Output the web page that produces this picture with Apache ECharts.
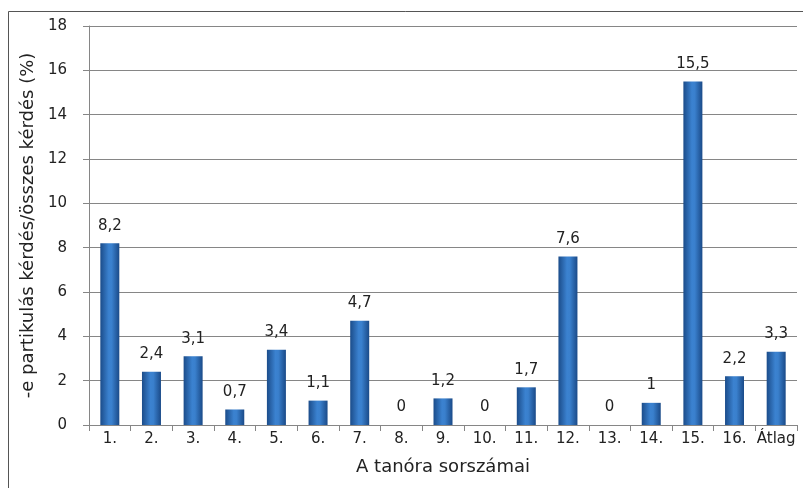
<!DOCTYPE html>
<html>
<head>
<meta charset="utf-8">
<script src="https://cdn.jsdelivr.net/npm/echarts@6/dist/echarts.min.js"></script>
<style>
  html, body { margin: 0; padding: 0; background: #fff; }
  #chart { width: 803px; height: 488px; }
</style>
</head>
<body>
<div id="chart"></div>
<script>
// Lesson numbers and the share of "-e" particle questions (%)
const categories = ['1.', '2.', '3.', '4.', '5.', '6.', '7.', '8.', '9.', '10.', '11.', '12.', '13.', '14.', '15.', '16.', 'Átlag'];
const values = [8.2, 2.4, 3.1, 0.7, 3.4, 1.1, 4.7, 0, 1.2, 0, 1.7, 7.6, 0, 1, 15.5, 2.2, 3.3];
const yTicks = [0, 2, 4, 6, 8, 10, 12, 14, 16, 18];

const FONT = 'DejaVu Sans';
const TEXT = '#222';
const chart = echarts.init(document.getElementById('chart'));

// cylinder-like shading across each bar
const barColor = new echarts.graphic.LinearGradient(0, 0, 1, 0, [
  { offset: 0, color: '#1b4c8a' },
  { offset: 0.45, color: '#3b82d0' },
  { offset: 0.6, color: '#3a80cd' },
  { offset: 1, color: '#1a4a88' }
]);

chart.setOption({
  animation: false,
  backgroundColor: '#fff',
  textStyle: { fontFamily: FONT },
  graphic: [
    {
      type: 'polyline',
      shape: { points: [[8.5, 488], [8.5, 11.5], [803, 11.5]] },
      style: { stroke: '#555', lineWidth: 1, fill: null }
    }
  ],
  grid: { left: 89, right: 6, top: 26, bottom: 63 },
  xAxis: {
    type: 'category',
    data: categories,
    name: 'A tanóra sorszámai',
    nameLocation: 'middle',
    nameGap: 33,
    nameTextStyle: { fontSize: 18, color: TEXT, fontFamily: FONT },
    axisLine: { lineStyle: { color: '#868686', width: 1 } },
    axisTick: { show: true, length: 6, lineStyle: { color: '#868686' } },
    axisLabel: { interval: 0, fontSize: 15, color: TEXT, margin: 7, fontFamily: FONT },
  },
  yAxis: {
    type: 'value',
    min: yTicks[0],
    max: yTicks[yTicks.length - 1],
    interval: yTicks[1] - yTicks[0],
    name: '-e partikulás kérdés/összes kérdés (%)',
    nameLocation: 'middle',
    nameGap: 50,
    nameTextStyle: { fontSize: 18, color: TEXT, fontFamily: FONT },
    axisLine: { show: true, lineStyle: { color: '#868686', width: 1 } },
    axisTick: { show: true, length: 6, lineStyle: { color: '#868686' } },
    axisLabel: { fontSize: 15, color: TEXT, margin: 22, fontFamily: FONT },
    splitLine: { lineStyle: { color: '#868686', width: 1 } }
  },
  series: [
    {
      type: 'bar',
      data: values,
      barWidth: 19,
      itemStyle: { color: barColor },
      label: {
        show: true,
        position: 'top',
        distance: 10,
        fontSize: 15,
        color: TEXT,
        fontFamily: FONT,
        formatter: p => String(p.value).replace('.', ',')
      }
    }
  ]
});
</script>
</body>
</html>
